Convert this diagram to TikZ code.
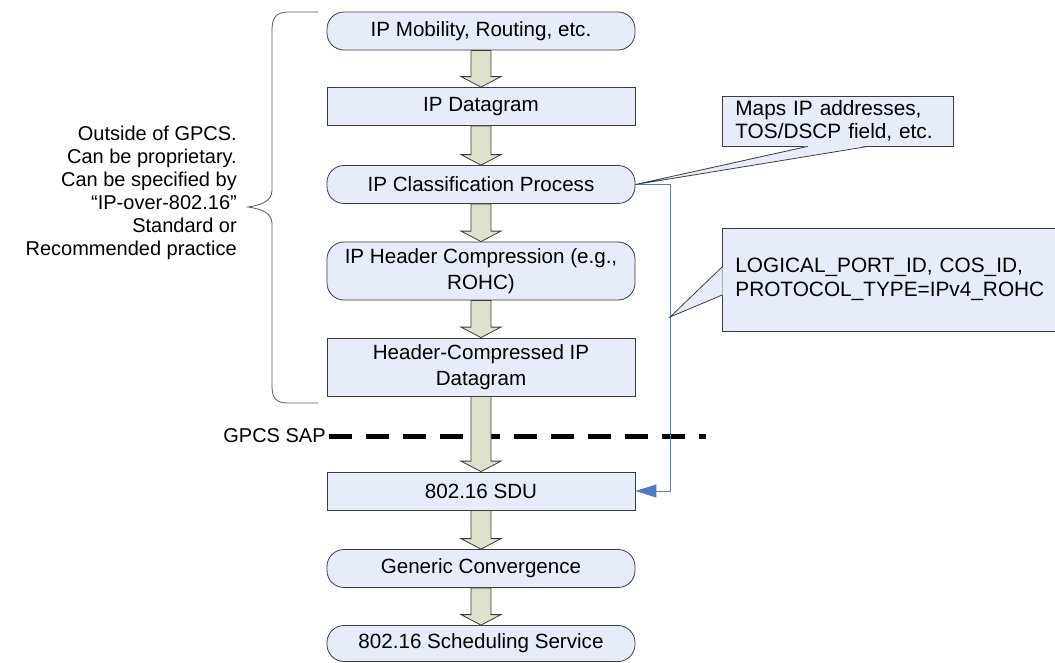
\documentclass[tikz,border=0pt]{standalone}
\usepackage{fontspec}
\setmainfont{Liberation Sans}
\usepackage{tikz}
\usetikzlibrary{positioning, arrows.meta, calc}

\definecolor{boxfill}{HTML}{E6ECF8}
\definecolor{arrowfill}{HTML}{DDE0CB}
\definecolor{edgegray}{HTML}{3C3C3C}
\definecolor{bracegray}{HTML}{5A5A5A}
\definecolor{linkblue}{HTML}{4F7BC8}

\begin{document}
\begin{tikzpicture}[x=1pt, y=-1pt,
  every node/.style={font=\fontsize{20}{23}\selectfont},
  plainbox/.style={draw=edgegray, fill=boxfill, line width=0.8pt, minimum width=308pt,
    minimum height=38pt, align=center, inner sep=2pt, font=\fontsize{20.6}{25.5}\selectfont},
  roundbox/.style={plainbox, rounded corners=17pt},
  flowarrow/.style={draw=edgegray, fill=arrowfill, line width=0.8pt, line join=miter},
  note/.style={draw=edgegray, fill=boxfill, line width=0.8pt, align=left, anchor=west,
    inner xsep=13pt, inner ysep=2pt, font=\fontsize{20.8}{23.5}\selectfont},
  pointer/.style={draw=edgegray, line width=0.8pt},
  bluelink/.style={draw=linkblue, line width=1pt, -{Triangle[length=21pt,width=13pt]}},
  sapline/.style={line width=5pt, dash pattern=on 23pt off 14pt}]
\useasboundingbox (0,0) rectangle (1055,662);

% the flow, top to bottom
\node[roundbox] (mobility) at (481,31) {IP Mobility, Routing, etc.};
\node[plainbox] (datagram) at (481,106.5) {IP Datagram};
\node[roundbox] (classify) at (481,184.5) {IP Classification Process};
\node[roundbox, minimum height=58pt] (compress) at (481,271) {IP Header Compression (e.g.,\\ ROHC)};
\node[plainbox, minimum height=58pt] (hcdgram) at (481,367) {Header-Compressed IP\\ Datagram};
\node[plainbox] (sdu) at (481,491) {802.16 SDU};
\node[roundbox] (generic) at (481,568.5) {Generic Convergence};
\node[roundbox, minimum height=36pt] (sched) at (481,643.5) {802.16 Scheduling Service};

% service access point
\node[inner sep=3pt] (saplabel) at (274.5,436) {GPCS SAP};
\coordinate (sapend) at (706,436);
\draw[sapline] (saplabel.east) -- (sapend);

% block arrows
\foreach \a/\b in {mobility/datagram, datagram/classify, classify/compress, compress/hcdgram,
                   hcdgram/sdu, sdu/generic, generic/sched}
  \draw[flowarrow] let \p1=(\a.south), \p2=(\b.north) in
    (\x1-10pt,\y1) -- (\x1-10pt,\y2+10.5pt) -- (\x1-20pt,\y2+10.5pt) -- (\x2,\y2)
    -- (\x1+20pt,\y2+10.5pt) -- (\x1+10pt,\y2+10.5pt) -- (\x1+10pt,\y1) -- cycle;

% brace and its text
\draw[bracegray, line width=0.8pt]
  (318,12) -- (288,12) .. controls (276,12) and (272,18) .. (272,30) -- (272,190)
  .. controls (272,201) and (262,205) .. (248,207)
  .. controls (262,209) and (272,213) .. (272,224) -- (272,386)
  .. controls (272,398) and (276,403) .. (288,403) -- (318,403);
\node[align=right, anchor=east, inner sep=2pt] (outside) at (239,193)
  {Outside of GPCS.\\ Can be proprietary.\\ Can be specified by\\ “IP-over-802.16”\\ Standard or\\ Recommended practice};

% classification result
\coordinate (tap) at (670,317);
\draw[bluelink] (classify.east) -- (classify.east -| tap) |- (sdu.east);

% callouts
\node[note, text width=205pt, minimum height=50pt] (mapsnote) at (722,121)
  {Maps IP addresses,\\ TOS/DSCP field, etc.};
\node[note, text width=317pt, minimum height=103pt] (typenote) at (722,279.5)
  {LOGICAL\_PORT\_ID, COS\_ID,\\ PROTOCOL\_TYPE=IPv4\_ROHC};

\fill[boxfill] ($(mapsnote.south west)!0.37!(mapsnote.south east)+(0,-0.6)$) -- (classify.east)
  -- ($(mapsnote.south west)!0.63!(mapsnote.south east)+(0,-0.6)$) -- cycle;
\draw[pointer] ($(mapsnote.south west)!0.37!(mapsnote.south east)$) -- (classify.east)
  -- ($(mapsnote.south west)!0.63!(mapsnote.south east)$);
\fill[boxfill] ($(typenote.north west)!0.38!(typenote.south west)+(0.6,0)$) -- (tap)
  -- ($(typenote.north west)!0.65!(typenote.south west)+(0.6,0)$) -- cycle;
\draw[pointer] ($(typenote.north west)!0.38!(typenote.south west)$) -- (tap)
  -- ($(typenote.north west)!0.65!(typenote.south west)$);

\end{tikzpicture}
\end{document}
